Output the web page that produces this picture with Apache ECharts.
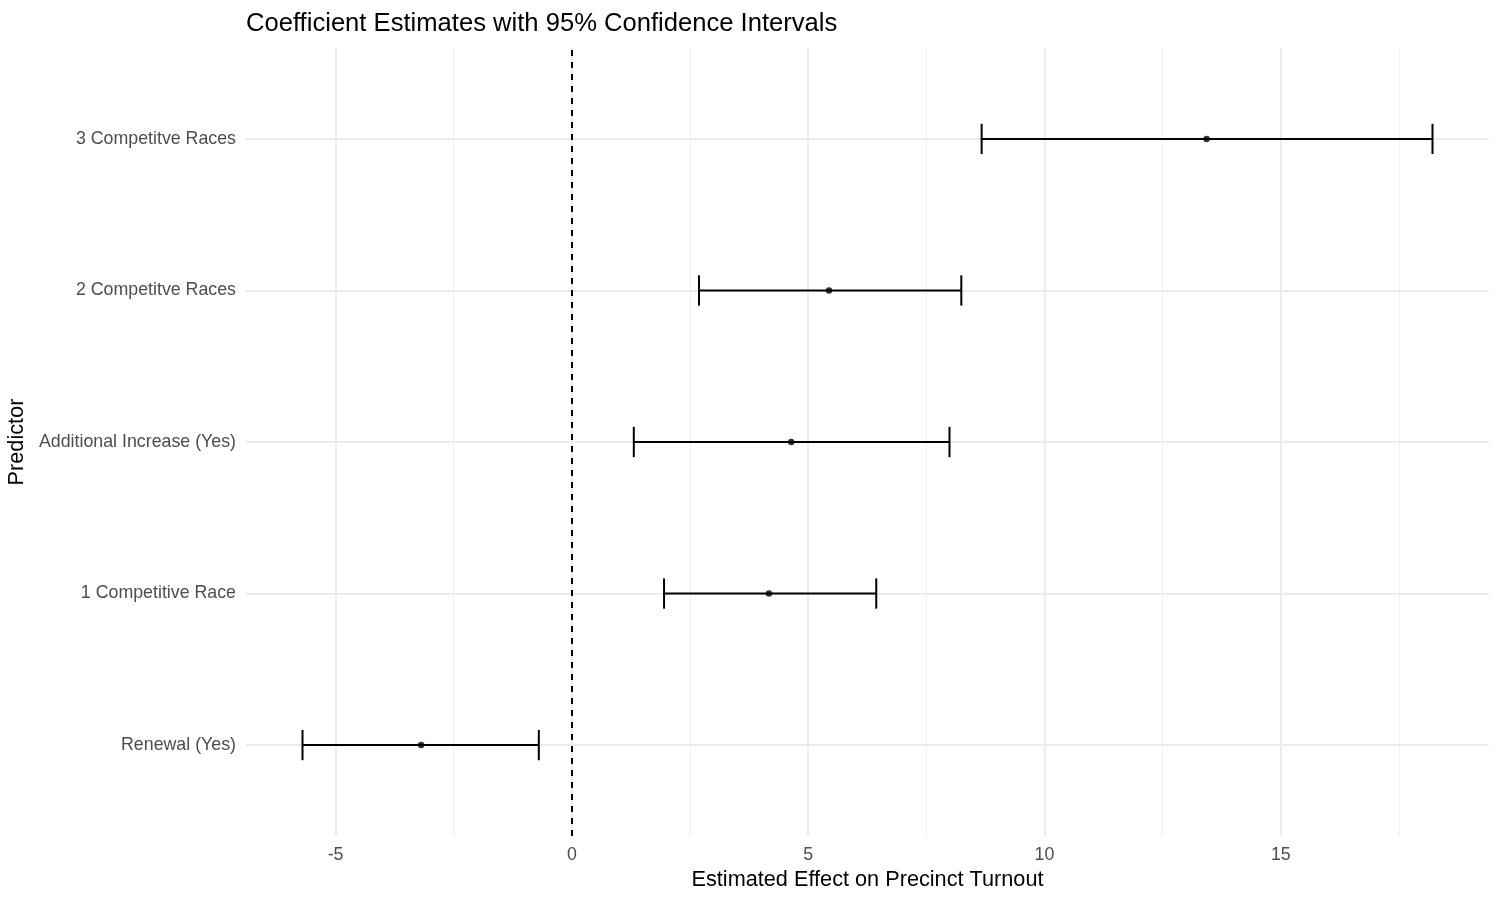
<!DOCTYPE html>
<html>
<head>
<meta charset="utf-8">
<script src="https://cdn.jsdelivr.net/npm/echarts@6/dist/echarts.min.js"></script>
<style>
html,body{margin:0;padding:0;background:#fff;}
#chart{width:1500px;height:900px;}
</style>
</head>
<body>
<div id="chart"></div>
<script>
// Categories from bottom to top
const categories = ["Renewal (Yes)", "1 Competitive Race", "Additional Increase (Yes)", "2 Competitve Races", "3 Competitve Races"];
const estimates = [-3.19, 4.17, 4.64, 5.44, 13.43];
const lowerCI   = [-5.70, 1.95, 1.31, 2.69, 8.67];
const upperCI   = [-0.70, 6.44, 7.99, 8.24, 18.21];
const xMajorTicks = [-5, 0, 5, 10, 15];
const xMinorTicks = [-2.5, 2.5, 7.5, 12.5, 17.5];
const yTicks = [1, 2, 3, 4, 5];
const referenceLine = 0;

const FONT = '"Liberation Sans", Arial, sans-serif';
const dataMin = Math.min(...lowerCI), dataMax = Math.max(...upperCI);
const pad = (dataMax - dataMin) * 0.05;
const xMin = dataMin - pad, xMax = dataMax + pad;

const ciData = categories.map((c, i) => [lowerCI[i], upperCI[i], i + 1]);
const ptData = categories.map((c, i) => [estimates[i], i + 1]);

const chart = echarts.init(document.getElementById('chart'));
chart.setOption({
  animation: false,
  backgroundColor: '#ffffff',
  title: {
    text: 'Coefficient Estimates with 95% Confidence Intervals',
    left: 241, top: 6,
    textStyle: {fontFamily: FONT, fontSize: 25.6, fontWeight: 'normal', color: '#000'}
  },
  grid: {left: 246, right: 11, top: 48, bottom: 64, containLabel: false, outerBoundsMode: 'none'},
  xAxis: [{
    type: 'value', min: xMin, max: xMax,
    name: 'Estimated Effect on Precinct Turnout',
    nameLocation: 'middle', nameGap: 30,
    nameTextStyle: {fontFamily: FONT, fontSize: 21.7, color: '#000'},
    axisLine: {show: false},
    axisTick: {show: false, customValues: xMajorTicks},
    axisLabel: {customValues: xMajorTicks, fontFamily: FONT, fontSize: 17.8, color: '#4d4d4d', margin: 10},
    splitLine: {show: true, lineStyle: {color: '#ebebeb', width: 2}}
  }, {
    type: 'value', min: xMin, max: xMax, position: 'bottom',
    axisLine: {show: false},
    axisTick: {show: false, customValues: xMinorTicks},
    axisLabel: {show: false, customValues: xMinorTicks},
    splitLine: {show: true, lineStyle: {color: '#efefef', width: 1}}
  }],
  yAxis: {
    type: 'value', min: 0.4, max: 5.6,
    name: 'Predictor', nameLocation: 'middle', nameGap: 215, nameRotate: 90,
    nameTextStyle: {fontFamily: FONT, fontSize: 21.7, color: '#000'},
    axisLine: {show: false},
    axisTick: {show: false, customValues: yTicks},
    axisLabel: {
      customValues: yTicks, fontFamily: FONT, fontSize: 17.8, color: '#4d4d4d', margin: 10,
      formatter: v => categories[Math.round(v) - 1] || ''
    },
    splitLine: {show: true, lineStyle: {color: '#ebebeb', width: 2}}
  },
  series: [{
    type: 'custom',
    xAxisIndex: 0,
    data: ciData,
    encode: {x: [0, 1], y: 2},
    renderItem: function (params, api) {
      const y = api.value(2);
      const p1 = api.coord([api.value(0), y]);
      const p2 = api.coord([api.value(1), y]);
      const h = Math.abs(api.coord([0, y + 0.1])[1] - api.coord([0, y - 0.1])[1]) / 2;
      const style = {stroke: '#000', lineWidth: 2, fill: null};
      return {
        type: 'group',
        children: [
          {type: 'line', shape: {x1: p1[0], y1: p1[1], x2: p2[0], y2: p2[1]}, style: style},
          {type: 'line', shape: {x1: p1[0], y1: p1[1] - h, x2: p1[0], y2: p1[1] + h}, style: style},
          {type: 'line', shape: {x1: p2[0], y1: p2[1] - h, x2: p2[0], y2: p2[1] + h}, style: style}
        ]
      };
    },
    z: 3
  }, {
    type: 'scatter',
    xAxisIndex: 0,
    data: ptData,
    symbol: 'circle',
    symbolSize: 6.5,
    itemStyle: {color: '#000'},
    z: 4,
    markLine: {
      silent: true,
      symbol: ['none', 'none'],
      label: {show: false},
      lineStyle: {color: '#000', type: [6, 6], width: 2},
      data: [{xAxis: referenceLine}]
    }
  }]
});
</script>
</body>
</html>
